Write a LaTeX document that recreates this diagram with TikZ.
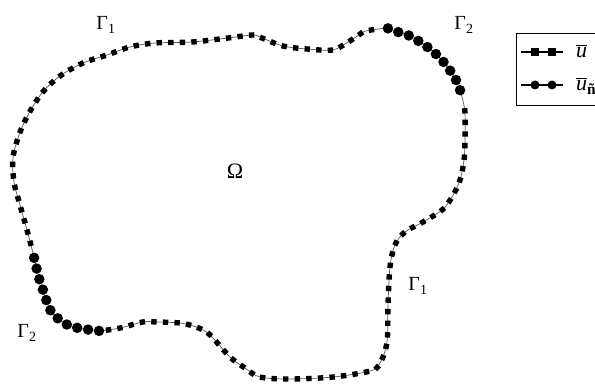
\documentclass[tikz,border=0pt]{standalone}
\usepackage{amsmath}
\usepackage{fontspec}
\setmainfont{Liberation Serif}
\usetikzlibrary{decorations.markings}
\tikzset{
  bnd/.style={draw=black!65, line width=0.7pt},
  sqm/.style={rectangle, fill=black, draw=none, minimum size=5.4pt, inner sep=0pt},
  cim/.style={circle, fill=black, draw=none, minimum size=10.5pt, inner sep=0pt},
  sqseg/.style={bnd, postaction={decorate}, decoration={markings,
      mark=between positions 10pt and -5pt step 11.6pt with {\node[sqm, transform shape]{};}}},
  ciseg/.style={bnd, postaction={decorate}, decoration={markings,
      mark=between positions 1pt and -1pt step 11pt with {\node[cim]{};}}},
  lab/.style={font=\fontsize{20}{24}\selectfont, inner sep=0pt},
}
\begin{document}
\begin{tikzpicture}[x=1pt,y=-1pt]
\useasboundingbox (0,0) rectangle (595,385);
\clip (0,0) rectangle (595,385);
\fill[white] (0,0) rectangle (595,385);

% Gamma_1 (top/left), squares
\draw[sqseg] plot[smooth, tension=0.55] coordinates {
 (33,253) (27,230) (20,205) (14,182) (13,158) (19,135) (28,115) (42,93)
 (60,76) (83,63) (107,55) (130,47) (155,43) (192,42) (228,38) (253,35)
 (262,38) (283,46) (307,49) (332,50) (345,44) (356,37) (366,31) (387,28)};
% Gamma_2 (top right), circles
\draw[ciseg] plot[smooth, tension=0.55] coordinates {
 (387,28) (398,32) (410,36) (420,42) (430,49) (440,58) (449,69) (456,80) (460,90) (463,101)};
% Gamma_1 (right/bottom), squares
\draw[sqseg] plot[smooth, tension=0.55] coordinates {
 (463,101) (465,113) (465,140) (464,160) (460,180) (452,197) (442,210) (423,222)
 (405,232) (395,245) (390,267) (388,305) (387,342) (380,363) (370,371) (333,377)
 (290,379) (260,377) (245,368) (230,357) (213,338) (205,331) (193,326) (180,323)
 (157,322) (143,322) (120,328) (100,331)};
% Gamma_2 (bottom left), circles
\draw[ciseg] plot[smooth, tension=0.55] coordinates {
 (100,331) (84,329) (70,326) (60,320) (52,313) (47,302) (43,290) (39,278) (36,266) (33,253)};

% labels
\node[lab] (g1a) at (106,25) {Γ\textsubscript{1}};
\node[lab] (g2a) at (464,25) {Γ\textsubscript{2}};
\node[lab] (g1b) at (418,286) {Γ\textsubscript{1}};
\node[lab] (g2b) at (27,333) {Γ\textsubscript{2}};
\node[lab, font=\fontsize{22}{26}\selectfont] (om) at (235,171) {Ω};

% legend
\draw[line width=0.7pt] (516,33) rectangle (640,105);
\coordinate (la1) at (521,52); \coordinate (lb1) at (563,52);
\coordinate (la2) at (521,85); \coordinate (lb2) at (563,85);
\draw[line width=1.1pt] (la1) -- (lb1);
\draw[line width=1.1pt] (la2) -- (lb2);
\node[sqm, minimum size=8pt] (s1) at (535,52) {};
\node[sqm, minimum size=8pt] (s2) at (552,52) {};
\node[cim, minimum size=9pt] (c1) at (535,85) {};
\node[cim, minimum size=9pt] (c2) at (552,85) {};
\node[lab, anchor=base west, font=\fontsize{22}{26}\selectfont] (t1) at (576,58) {$\overline{\textit{u}}$};
\node[lab, anchor=base west, font=\fontsize{22}{26}\selectfont] (t2) at (576,91) {$\overline{\textit{u}}_{\text{\bfseries ñ}}$};
\end{tikzpicture}
\end{document}
